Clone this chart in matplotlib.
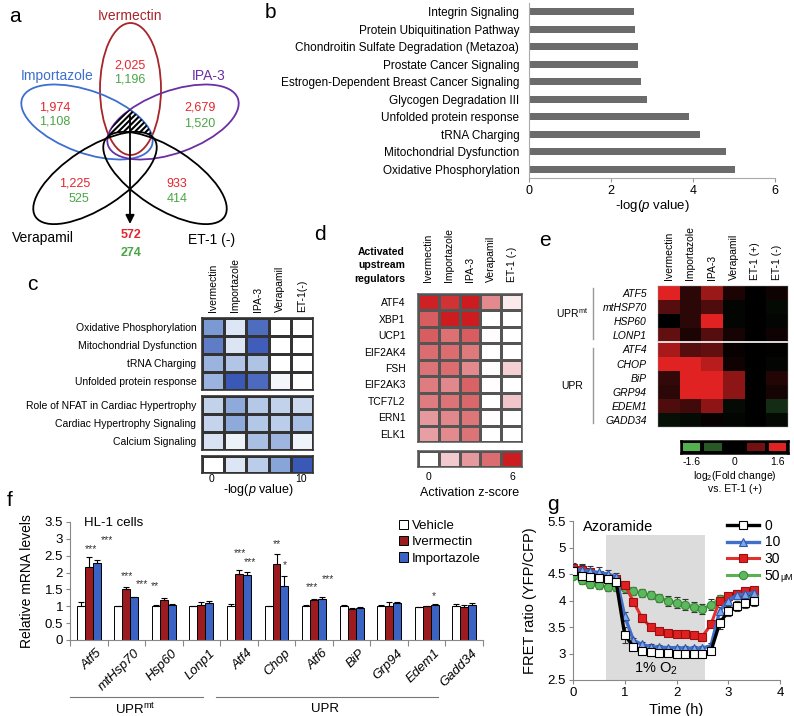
import numpy as np
import matplotlib
matplotlib.use('Agg')
import matplotlib.pyplot as plt
from matplotlib.patches import Ellipse, Polygon, Patch
from matplotlib.colors import LinearSegmentedColormap
from matplotlib.lines import Line2D

plt.rcParams['font.family'] = ['Liberation Sans', 'DejaVu Sans']
plt.rcParams['mathtext.fontset'] = 'custom'
plt.rcParams['mathtext.rm'] = 'Liberation Sans'
plt.rcParams['mathtext.it'] = 'Liberation Sans:italic'
plt.rcParams['mathtext.bf'] = 'Liberation Sans:bold'
plt.rcParams['hatch.linewidth'] = 1.5

# ---------------- data ----------------
# a: Venn
venn_names = ['Ivermectin', 'Importazole', 'IPA-3', 'Verapamil', 'ET-1 (-)']
venn_red = ['2,025', '1,974', '2,679', '1,225', '933']
venn_green = ['1,196', '1,108', '1,520', '525', '414']
venn_common = ['572', '274']

# b: pathways
b_labels = ['Integrin Signaling', 'Protein Ubiquitination Pathway',
            'Chondroitin Sulfate Degradation (Metazoa)', 'Prostate Cancer Signaling',
            'Estrogen-Dependent Breast Cancer Signaling', 'Glycogen Degradation III',
            'Unfolded protein response', 'tRNA Charging', 'Mitochondrial Dysfunction',
            'Oxidative Phosphorylation']
b_values = [2.55, 2.58, 2.65, 2.65, 2.72, 2.88, 3.9, 4.18, 4.8, 5.02]

# c: pathway heatmap
c_cols = ['Ivermectin', 'Importazole', 'IPA-3', 'Verapamil', 'ET-1(-)']
c_rows1 = ['Oxidative Phosphorylation', 'Mitochondrial Dysfunction', 'tRNA Charging',
           'Unfolded protein response']
c_rows2 = ['Role of NFAT in Cardiac Hypertrophy', 'Cardiac Hypertrophy Signaling',
           'Calcium Signaling']
c_vals1 = [[7.9, 2.5, 9.3, 0, 0],
           [8.8, 2.6, 9.8, 0, 0],
           [6.6, 5.5, 5.6, 0, 0],
           [6.6, 10.0, 9.4, 0.9, 0]]
c_vals2 = [[4.5, 7.2, 5.3, 4.5, 3.8],
           [4.3, 7.2, 5.4, 5.0, 5.9],
           [2.9, 1.3, 5.9, 6.5, 1.2]]
c_scale = [0, 2.5, 5, 7.5, 10]

# d: upstream regulators
d_cols = ['Ivermectin', 'Importazole', 'IPA-3', 'Verapamil', 'ET-1 (-)']
d_rows = ['ATF4', 'XBP1', 'UCP1', 'EIF2AK4', 'FSH', 'EIF2AK3', 'TCF7L2', 'ERN1', 'ELK1']
d_vals = [[5.9, 5.6, 6.0, 3.5, 0.6],
          [4.8, 6.0, 6.0, 0, 0],
          [4.8, 4.4, 4.8, 0.1, 0],
          [4.5, 4.5, 4.1, 0, 0],
          [4.3, 4.5, 3.5, 0.1, 1.3],
          [4.0, 3.6, 4.7, 0.05, 0],
          [4.0, 4.3, 4.6, 0, 1.6],
          [3.0, 3.6, 4.2, 0.05, 0],
          [2.8, 3.5, 4.3, 0, 0]]
d_scale = [0, 1.5, 3, 4.5, 6]

# e: log2 fold change
e_cols = ['Ivermectin', 'Importazole', 'IPA-3', 'Verapamil', 'ET-1 (+)', 'ET-1 (-)']
e_rows = ['ATF5', 'mtHSP70', 'HSP60', 'LONP1', 'ATF4', 'CHOP', 'BiP', 'GRP94', 'EDEM1', 'GADD34']
e_vals = [[1.6, 0.3, 1.1, 0.2, 0, 0.1],
          [0.6, 0.3, 0.55, -0.05, 0, -0.08],
          [0.0, 0.3, 1.6, -0.05, 0, -0.05],
          [0.7, 0.2, 0.6, 0.15, 0, 0.1],
          [1.2, 0.6, 0.7, 0.05, 0, 0.02],
          [1.6, 1.6, 1.3, 0.1, 0, -0.05],
          [0.35, 1.6, 1.6, 1.0, 0, 0.25],
          [0.3, 1.6, 1.6, 1.0, 0, 0.15],
          [0.55, 0.45, 1.0, -0.1, 0, -0.4],
          [-0.15, -0.1, 0.05, -0.05, 0, -0.08]]
e_scale = [-1.6, -0.8, 0, 0.8, 1.6]

# f: qPCR
f_genes = ['Atf5', 'mtHsp70', 'Hsp60', 'Lonp1', 'Atf4', 'Chop', 'Atf6', 'BiP', 'Grp94', 'Edem1', 'Gadd34']
f_series = ['Vehicle', 'Ivermectin', 'Importazole']
f_vehicle = [1.0, 1.0, 1.02, 1.0, 1.02, 1.0, 1.0, 1.0, 1.0, 0.97, 1.0]
f_vehicle_err = [0.12, 0.01, 0.03, 0.02, 0.06, 0.02, 0.03, 0.03, 0.05, 0.02, 0.06]
f_iver = [2.17, 1.5, 1.18, 1.05, 1.97, 2.25, 1.2, 0.92, 1.02, 1.0, 0.98]
f_iver_err = [0.28, 0.07, 0.07, 0.08, 0.12, 0.3, 0.02, 0.04, 0.12, 0.02, 0.05]
f_impo = [2.28, 1.27, 1.05, 1.1, 1.92, 1.6, 1.23, 0.95, 1.1, 1.05, 1.05]
f_impo_err = [0.1, 0.01, 0.02, 0.06, 0.1, 0.3, 0.04, 0.03, 0.02, 0.02, 0.05]
# significance marks: (gene index, text, x offset in category units, height)
f_stars = [(0, '***', 0.06, 2.71), (0, '***', 0.49, 2.96),
           (1, '***', 0.02, 1.89), (1, '***', 0.42, 1.66),
           (2, '**', -0.23, 1.6),
           (4, '***', 0.03, 2.58), (4, '***', 0.3, 2.32),
           (5, '**', 0.02, 2.84), (5, '*', 0.23, 2.22),
           (6, '***', -0.05, 1.56), (6, '***', 0.38, 1.8),
           (9, '*', 0.18, 1.3)]

# g: FRET time course
g_time = [0, 0.167, 0.333, 0.5, 0.667, 0.833, 1.0, 1.167, 1.333, 1.5, 1.667,
          1.833, 2.0, 2.167, 2.333, 2.5, 2.667, 2.833, 3.0, 3.167, 3.333, 3.5]
g_0 = [4.55, 4.47, 4.45, 4.42, 4.4, 4.35, 3.35, 3.13, 3.05, 3.02, 3.01,
       3.01, 3.0, 2.99, 2.99, 2.99, 3.05, 3.57, 3.8, 3.9, 3.96, 4.0]
g_0_err = [0.08, 0.1, 0.08, 0.08, 0.08, 0.08, 0.15, 0.06, 0.05, 0.05, 0.05,
           0.05, 0.05, 0.05, 0.05, 0.05, 0.05, 0.1, 0.1, 0.1, 0.1, 0.1]
g_10 = [4.6, 4.57, 4.55, 4.53, 4.5, 4.45, 3.7, 3.25, 3.17, 3.13, 3.12,
        3.11, 3.11, 3.1, 3.1, 3.1, 3.15, 3.8, 4.0, 4.1, 4.12, 4.15]
g_10_err = [0.08, 0.12, 0.1, 0.1, 0.08, 0.06, 0.08, 0.05, 0.04, 0.04, 0.04,
            0.04, 0.04, 0.04, 0.04, 0.04, 0.04, 0.08, 0.08, 0.08, 0.08, 0.08]
g_30 = [4.62, 4.57, 4.53, 4.48, 4.43, 4.4, 4.3, 3.98, 3.67, 3.5, 3.42,
        3.38, 3.37, 3.37, 3.35, 3.32, 3.55, 4.0, 4.08, 4.13, 4.17, 4.2]
g_30_err = [0.08, 0.1, 0.06, 0.06, 0.06, 0.05, 0.05, 0.06, 0.08, 0.06, 0.05,
            0.05, 0.05, 0.05, 0.05, 0.05, 0.06, 0.06, 0.06, 0.06, 0.06, 0.06]
g_50 = [4.46, 4.38, 4.32, 4.29, 4.25, 4.25, 4.23, 4.18, 4.14, 4.1, 4.05,
        3.99, 3.96, 3.92, 3.88, 3.84, 3.92, 4.03, 4.07, 4.1, 4.1, 4.1]
g_50_err = [0.06, 0.06, 0.08, 0.08, 0.08, 0.08, 0.08, 0.08, 0.08, 0.08, 0.08,
            0.1, 0.1, 0.1, 0.1, 0.1, 0.1, 0.08, 0.08, 0.08, 0.08, 0.08]
g_labels = ['0', '10', '30', '50']
g_unit = 'μM'
g_hypoxia = (0.63, 2.56)

# ---------------- figure ----------------
W, H = 794, 716
fig = plt.figure(figsize=(W / 100, H / 100), dpi=100)


def pax(x0, y0, x1, y1):
    return fig.add_axes([x0 / W, 1 - y1 / H, (x1 - x0) / W, (y1 - y0) / H])


def ftext(x, y, s, **kw):
    return fig.text(x / W, 1 - y / H, s, **kw)


def fline(x0, x1, y0, y1, **kw):
    fig.add_artist(Line2D([x0 / W, x1 / W], [1 - y0 / H, 1 - y1 / H],
                          transform=fig.transFigure, **kw))


# ---------------- panel a ----------------
axa = pax(0, 0, 260, 260)
axa.set_xlim(0, 260)
axa.set_ylim(260, 0)
axa.axis('off')
axa.patch.set_alpha(0)
ells = [(130.5, 89, 61, 132, 0, '#a8242a'),
        (87, 122, 138, 62, 20, '#3c6fcf'),
        (173, 122, 138, 62, -20, '#6b2fa3'),
        (95, 178, 142, 60, -33, 'black'),
        (165, 178, 142, 60, 33, 'black')]
for (cx, cy, w, h, ang, col) in ells:
    axa.add_patch(Ellipse((cx, cy), w, h, angle=ang, fill=False, edgecolor=col, lw=1.3))


def ray_roots(o, d, e):
    cx, cy, w, h, ang = e[:5]
    a, b = w / 2, h / 2
    t = np.deg2rad(ang)
    c, s = np.cos(t), np.sin(t)
    ox, oy = o[0] - cx, o[1] - cy
    q0x, q0y = ox * c + oy * s, -ox * s + oy * c
    qdx, qdy = d[0] * c + d[1] * s, -d[0] * s + d[1] * c
    A = (qdx / a) ** 2 + (qdy / b) ** 2
    B = 2 * (q0x * qdx / a ** 2 + q0y * qdy / b ** 2)
    C = (q0x / a) ** 2 + (q0y / b) ** 2 - 1
    disc = B * B - 4 * A * C
    if disc < 0:
        return None
    sq = np.sqrt(disc)
    return (-B - sq) / (2 * A), (-B + sq) / (2 * A)


origin = (130, 122)
pts = []
for th in np.linspace(0, 2 * np.pi, 361):
    d = (np.cos(th), np.sin(th))
    r = 1e9
    for e in ells[:3]:
        rr = ray_roots(origin, d, e)
        r = min(r, rr[1])
    for e in ells[3:]:
        rr = ray_roots(origin, d, e)
        if rr is not None and rr[0] > 0:
            r = min(r, rr[0])
    pts.append((origin[0] + r * d[0], origin[1] + r * d[1]))
axa.add_patch(Polygon(pts, closed=True, facecolor='none', edgecolor='black', lw=0,
                      hatch='//////'))
axa.annotate('', xy=(130, 224), xytext=(130, 116),
             arrowprops=dict(arrowstyle='-|>', color='black', lw=1.3,
                             mutation_scale=13, shrinkA=0, shrinkB=0))

RED = '#e3262d'
GRN = '#4aa546'
axa.text(130, 16, venn_names[0], color='#a8242a', ha='center', va='center', fontsize=10)
axa.text(57, 76, venn_names[1], color='#3c6fcf', ha='center', va='center', fontsize=10)
axa.text(209, 76, venn_names[2], color='#6b2fa3', ha='center', va='center', fontsize=10)
axa.text(43, 238, venn_names[3], color='black', ha='center', va='center', fontsize=10)
axa.text(212, 240, venn_names[4], color='black', ha='center', va='center', fontsize=10)
num_pos = [(130, 65, 80), (55, 108, 122), (200, 108, 124), (75, 184, 199), (177, 184, 199)]
for (x, y1, y2), rl, gl in zip(num_pos, venn_red, venn_green):
    axa.text(x, y1, rl, color=RED, ha='center', va='center', fontsize=9)
    axa.text(x + (4 if len(gl) < 4 and len(rl) > 3 else 0), y2, gl, color=GRN,
             ha='center', va='center', fontsize=9)
axa.text(131, 235, venn_common[0], color=RED, ha='center', va='center', fontsize=9,
         fontweight='bold')
axa.text(131, 253, venn_common[1], color=GRN, ha='center', va='center', fontsize=9,
         fontweight='bold')

# ---------------- panel b ----------------
axb = pax(529, 3, 775, 178)
axb.barh(range(len(b_values)), b_values, height=0.42, color='#6b6b6b')
axb.set_ylim(len(b_values) - 0.5, -0.5)
axb.set_xlim(0, 6)
axb.set_yticks(range(len(b_values)))
axb.set_yticklabels(b_labels, fontsize=8.5)
axb.set_xticks([0, 2, 4, 6])
axb.tick_params(axis='y', length=0, pad=7)
axb.tick_params(axis='x', labelsize=9, length=3, color='#999', pad=2)
for sp in ['top', 'right']:
    axb.spines[sp].set_visible(False)
for sp in ['left', 'bottom']:
    axb.spines[sp].set_color('#aaa')
axb.set_xlabel('-log($\\mathit{p}$ value)', fontsize=9.5)
axb.xaxis.set_label_coords(0.5, -0.115)

# ---------------- panel c ----------------
cmap_c = LinearSegmentedColormap.from_list(
    'blu', [(0, '#ffffff'), (0.25, '#dde6f4'), (0.5, '#bccde9'), (0.75, '#88a6d9'),
            (1, '#3a58b6')])


def heat(ax, vals, cmap, vmin, vmax, ec='#333', lw=0.9):
    arr = np.array(vals, dtype=float)
    ax.pcolormesh(arr, cmap=cmap, vmin=vmin, vmax=vmax, edgecolors=ec, linewidth=lw)
    ax.set_xlim(0, arr.shape[1])
    ax.set_ylim(arr.shape[0], 0)
    ax.set_xticks([])
    ax.set_yticks([])
    for sp in ax.spines.values():
        sp.set_color(ec)
        sp.set_linewidth(lw + 0.3)


c_x0, c_x1 = 202, 313
axc1 = pax(c_x0, 318, c_x1, 390)
heat(axc1, c_vals1, cmap_c, 0, 10)
axc1.xaxis.set_ticks_position('top')
axc1.set_xticks(np.arange(len(c_cols)) + 0.5)
axc1.set_xticklabels(c_cols, rotation=90, fontsize=7.5)
axc1.set_yticks(np.arange(len(c_rows1)) + 0.5)
axc1.set_yticklabels(c_rows1, fontsize=7.5)
axc1.tick_params(length=0, pad=4)

axc2 = pax(c_x0, 396, c_x1, 450)
heat(axc2, c_vals2, cmap_c, 0, 10)
axc2.set_yticks(np.arange(len(c_rows2)) + 0.5)
axc2.set_yticklabels(c_rows2, fontsize=7.5)
axc2.tick_params(length=0, pad=4)

axc3 = pax(c_x0, 456, c_x1, 473)
heat(axc3, [c_scale], cmap_c, 0, 10)
ftext(212, 479, '0', ha='center', va='center', fontsize=7.5)
ftext(301, 479, '10', ha='center', va='center', fontsize=7.5)
ftext(258, 490, '-log($\\mathit{p}$ value)', ha='center', va='center', fontsize=9)

# ---------------- panel d ----------------
cmap_d = LinearSegmentedColormap.from_list(
    'red', [(0, '#ffffff'), (0.25, '#f2c9cd'), (0.5, '#e6999d'), (0.75, '#db6d70'),
            (1, '#cd1c20')])
axd = pax(418, 294, 522, 442)
heat(axd, d_vals, cmap_d, 0, 6, ec='#555', lw=0.8)
axd.xaxis.set_ticks_position('top')
axd.set_xticks(np.arange(len(d_cols)) + 0.5)
axd.set_xticklabels(d_cols, rotation=90, fontsize=7.5)
axd.set_yticks(np.arange(len(d_rows)) + 0.5)
axd.set_yticklabels(d_rows, fontsize=7.5)
axd.tick_params(axis='x', length=0, pad=9)
axd.tick_params(axis='y', length=0, pad=9)
axd2 = pax(418, 451, 522, 467)
heat(axd2, [d_scale], cmap_d, 0, 6, ec='#555', lw=0.8)
ftext(428, 477, '0', ha='center', va='center', fontsize=7.5)
ftext(512, 477, '6', ha='center', va='center', fontsize=7.5)
ftext(470, 493, 'Activation z-score', ha='center', va='center', fontsize=9)
for i, s in enumerate(['Activated', 'upstream', 'regulators']):
    ftext(405, 252 + 13.5 * i, s, ha='right', va='center', fontsize=7.5, fontweight='bold')

# ---------------- panel e ----------------
cmap_e = LinearSegmentedColormap.from_list(
    'rg', [(0, '#52b14e'), (0.5, '#000000'), (1, '#e02222')])
axe = pax(658, 286, 788, 427)
heat(axe, e_vals, cmap_e, -1.6, 1.6, ec='#999', lw=0)
axe.axhline(4, color='white', lw=1.2)
axe.xaxis.set_ticks_position('top')
axe.set_xticks(np.arange(len(e_cols)) + 0.5)
axe.set_xticklabels(e_cols, rotation=90, fontsize=7.5)
axe.set_yticks(np.arange(len(e_rows)) + 0.5)
axe.set_yticklabels(e_rows, fontsize=7.5, style='italic')
axe.tick_params(axis='x', length=0, pad=4)
axe.tick_params(axis='y', length=0, pad=8)
axe2 = pax(681, 441, 788, 453)
heat(axe2, [e_scale], cmap_e, -1.6, 1.6, ec='black', lw=1.5)
for v, x in zip(['-1.6', '0', '1.6'], [692, 734, 777]):
    ftext(x, 462, v, ha='center', va='center', fontsize=7.5)
ftext(735, 476, 'log$_2$(Fold change)', ha='center', va='center', fontsize=7.5)
ftext(735, 489, 'vs. ET-1 (+)', ha='center', va='center', fontsize=7.5)
fline(593, 593, 288, 339, color='#999', lw=1)
fline(593, 593, 348, 423, color='#999', lw=1)
ftext(588, 313, 'UPR$^{\\mathrm{mt}}$', ha='right', va='center', fontsize=7.5)
ftext(583, 386, 'UPR', ha='right', va='center', fontsize=7.5)

# ---------------- panel f ----------------
axf = pax(70, 522, 483, 640)
n = len(f_genes)
bw = 0.213
xc = np.arange(n) + 0.5
f_cols = ['white', '#9b1b1f', '#3a63c4']
for k, (vals, errs) in enumerate([(f_vehicle, f_vehicle_err), (f_iver, f_iver_err),
                                   (f_impo, f_impo_err)]):
    xs = xc + (k - 1) * bw
    axf.bar(xs, vals, width=bw, color=f_cols[k], edgecolor='black', linewidth=0.7,
            label=f_series[k], zorder=2)
    axf.errorbar(xs, vals, yerr=[np.zeros(n), errs], fmt='none', ecolor='black',
                 elinewidth=0.8, capsize=2.2, capthick=0.8, zorder=3)
for gi, txt, dx, yy in f_stars:
    axf.text(gi + 0.5 + dx, yy, txt, ha='center', va='center', fontsize=7.5, color='#333')
axf.set_xlim(0, n)
axf.set_ylim(0, 3.5)
axf.set_yticks(np.arange(0, 3.51, 0.5))
axf.set_yticklabels(['0', '0.5', '1', '1.5', '2', '2.5', '3', '3.5'])
axf.set_xticks(np.arange(0, n + 1))
axf.set_xticklabels([])
axf.tick_params(axis='y', labelsize=9.5, length=3, color='#888', pad=2)
axf.tick_params(axis='x', length=4, color='#888')
for sp in ['top', 'right']:
    axf.spines[sp].set_visible(False)
for sp in ['left', 'bottom']:
    axf.spines[sp].set_color('#888')
for i, g in enumerate(f_genes):
    axf.text(i + 0.7, -0.06, g, transform=axf.get_xaxis_transform(), rotation=45,
             ha='right', va='top', rotation_mode='anchor', fontsize=9.5, style='italic')
axf.set_ylabel('Relative mRNA levels', fontsize=10)
axf.yaxis.set_label_coords(-0.088, 0.5)
axf.text(0.035, 0.99, 'HL-1 cells', transform=axf.transAxes, ha='left', va='center',
         fontsize=9.5)
handles = [Patch(facecolor=c, edgecolor='black', linewidth=0.7) for c in f_cols]
axf.legend(handles, f_series, loc='upper left', bbox_to_anchor=(399 / W, 1 - 520 / H),
           bbox_transform=fig.transFigure, frameon=False, fontsize=9.5,
           handlelength=0.7, handleheight=0.7, handletextpad=0.25, labelspacing=0.3,
           borderpad=0, borderaxespad=0)
fline(70, 203, 697, 697, color='#777', lw=0.8)
fline(216, 438, 697, 697, color='#777', lw=0.8)
ftext(135, 709, 'UPR$^{\\mathrm{mt}}$', ha='center', va='center', fontsize=9.5)
ftext(325, 709, 'UPR', ha='center', va='center', fontsize=9.5)

# ---------------- panel g ----------------
axg = pax(573, 521, 780, 680)
axg.axvspan(g_hypoxia[0], g_hypoxia[1], ymin=0, ymax=(5.23 - 2.5) / 3.0,
            color='#dcdcdc', lw=0, zorder=0)
g_styles = [
    (g_50, g_50_err, '#5cb04f', 'o', '#5cb85c', '#3d8a3a', 6, 2.2),
    (g_30, g_30_err, '#e03030', 's', '#e02020', '#9a1010', 6, 2.2),
    (g_10, g_10_err, '#3f6ecb', '^', '#7fa8e6', '#2d56b0', 6, 2.4),
    (g_0, g_0_err, 'black', 's', 'white', 'black', 6, 2.4),
]
handles_g = []
for vals, errs, lc, mk, mfc, mec, ms, lw in g_styles:
    axg.errorbar(g_time, vals, yerr=errs, fmt='none', ecolor='#333', elinewidth=0.8,
                 capsize=2, capthick=0.8, zorder=2)
    ln, = axg.plot(g_time, vals, color=lc, lw=lw, marker=mk, ms=ms, mfc=mfc, mec=mec,
                   mew=0.8, zorder=3)
    handles_g.append(ln)
handles_g = handles_g[::-1]
axg.set_xlim(0, 4)
axg.set_ylim(2.5, 5.5)
axg.set_xticks([0, 1, 2, 3, 4])
axg.set_yticks(np.arange(2.5, 5.51, 0.5))
axg.set_yticklabels(['2.5', '3', '3.5', '4', '4.5', '5', '5.5'])
axg.tick_params(labelsize=9.5, length=3, color='#888', pad=2)
for sp in ['top', 'right']:
    axg.spines[sp].set_visible(False)
for sp in ['left', 'bottom']:
    axg.spines[sp].set_color('#888')
axg.set_ylabel('FRET ratio (YFP/CFP)', fontsize=10.5)
axg.yaxis.set_label_coords(-0.172, 0.5)
axg.set_xlabel('Time (h)', fontsize=10.5)
axg.xaxis.set_label_coords(0.5, -0.145)
axg.text(0.05, 0.965, 'Azoramide', transform=axg.transAxes, ha='left', va='center',
         fontsize=10.5)
axg.text(1.6, 2.72, '1% O$_2$', ha='center', va='center', fontsize=10.5)
leg = axg.legend(handles_g, g_labels, loc='upper left', bbox_to_anchor=(727 / W, 1 - 519 / H),
                 bbox_transform=fig.transFigure, frameon=False, fontsize=10, numpoints=1,
                 handlelength=2.3, handletextpad=0.4, labelspacing=0.18, borderpad=0,
                 borderaxespad=0)
ftext(780, 578, g_unit, ha='left', va='center', fontsize=6.5)

# ---------------- panel letters ----------------
for x, y, s in [(15, 16, 'a'), (270, 13, 'b'), (32, 284, 'c'), (320, 235, 'd'),
                (545, 240, 'e'), (10, 500, 'f'), (553, 505, 'g')]:
    ftext(x, y, s, ha='center', va='center', fontsize=15)

fig.savefig('out.png', dpi=100)
